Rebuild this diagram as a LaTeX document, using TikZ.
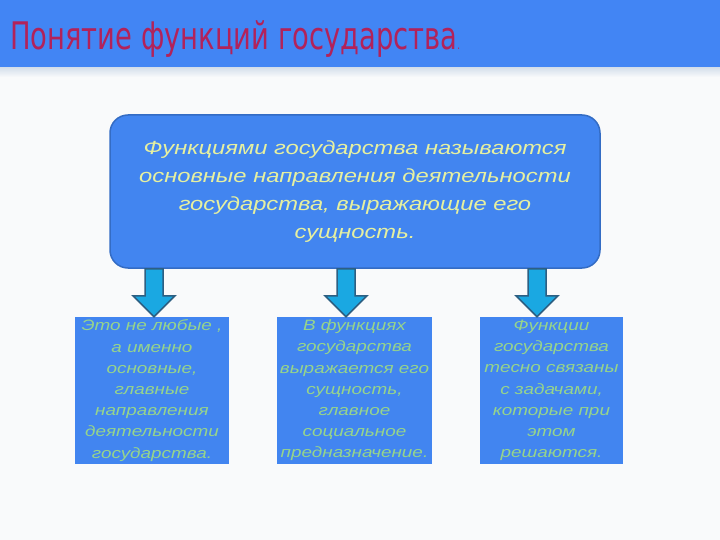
\documentclass[tikz,border=0pt]{standalone}
\usepackage{fontspec}
\setmainfont{Liberation Sans}
\newfontfamily\titlefont[FakeStretch=0.72]{DejaVu Sans}
\newfontfamily\deffont[FakeStretch=1.25]{Liberation Sans}
\newfontfamily\notefont[FakeStretch=1.26]{Liberation Sans}
\usetikzlibrary{calc}

\definecolor{barblue}{RGB}{66,133,244}
\definecolor{boxblue}{RGB}{66,133,240}
\definecolor{edgeblue}{RGB}{52,108,196}
\definecolor{titlered}{RGB}{178,34,90}
\definecolor{paleyellow}{RGB}{230,240,160}
\definecolor{palegreen}{RGB}{150,212,140}
\definecolor{arrowcyan}{RGB}{26,168,226}
\definecolor{arrowedge}{RGB}{45,95,130}
\definecolor{pagebg}{RGB}{249,250,251}
\definecolor{shadowgray}{RGB}{214,224,236}

\tikzset{
  defbox/.style={draw=edgeblue, line width=1.5pt, fill=boxblue,
    rounded corners=18pt, minimum width=490pt, minimum height=153pt,
    align=center, inner sep=0pt, text=paleyellow,
    font=\deffont\itshape\fontsize{19}{28}\selectfont},
  notebox/.style={fill=boxblue, minimum height=147pt, align=center,
    inner sep=0pt, text=palegreen,
    font=\notefont\itshape\fontsize{15}{21.2}\selectfont},
  downarrow/.style={draw=arrowedge, line width=1.5pt, fill=arrowcyan,
    line join=miter}
}

\begin{document}
\begin{tikzpicture}[x=1pt,y=-1pt]
  \useasboundingbox (0,0) rectangle (720,540);
  \fill[pagebg] (0,0) rectangle (720,540);
  % title bar
  \fill[barblue] (0,0) rectangle (720,68);
  \shade[top color=shadowgray, bottom color=pagebg] (0,68) rectangle (720,77);
  \node[anchor=base west, inner sep=0pt, text=titlered,
    font=\titlefont\fontsize{38}{40}\selectfont] (title) at (10,50)
    {Понятие функций государства{\fontsize{12}{12}\selectfont.}};

  % definition
  \node[defbox] (def) at (355,191.5)
    {Функциями государства называются\\
     основные направления деятельности\\
     государства, выражающие его\\
     сущность.};

  % three notes
  \node[notebox, minimum width=154pt] (b1) at (152,390.5)
    {Это не любые ,\\ а именно\\ основные,\\ главные\\ направления\\
     деятельности\\ государства.};
  \node[notebox, minimum width=155pt] (b2) at (354.5,390.5)
    {В функциях\\ государства\\ выражается его\\ сущность,\\ главное\\
     социальное\\ предназначение.};
  \node[notebox, minimum width=143pt] (b3) at (551.5,390.5)
    {Функции\\ государства\\ тесно связаны\\ с задачами,\\ которые при\\
     этом\\ решаются.};

  % block arrows
  \foreach \x/\b in {154/b1,346/b2,537/b3} {
    \coordinate (top) at (\x,0 |- def.south);
    \coordinate (tip) at (\x,0 |- \b.north);
    \draw[downarrow] ($(top)+(-9,0)$) -- ($(tip)+(-9,-21)$)
      -- ($(tip)+(-21,-21)$) -- (tip) -- ($(tip)+(21,-21)$)
      -- ($(tip)+(9,-21)$) -- ($(top)+(9,0)$) -- cycle;
  }
\end{tikzpicture}
\end{document}
